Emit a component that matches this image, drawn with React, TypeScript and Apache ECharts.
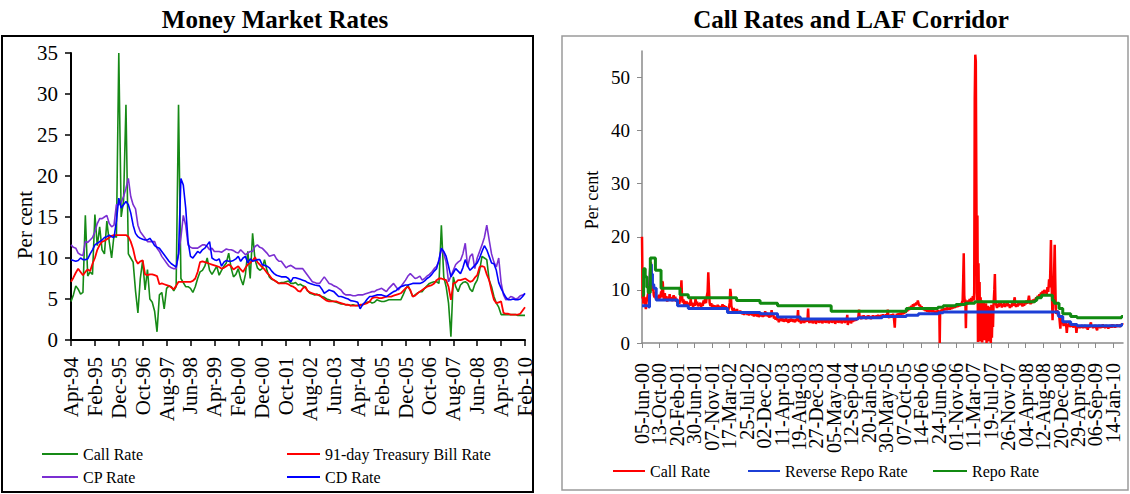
import React, { useEffect, useRef } from "react";
import * as echarts from "echarts";

// ---------- Left panel: Money Market Rates (monthly, Apr-94 .. Feb-10) ----------
const MONTH_NAMES = ["Jan", "Feb", "Mar", "Apr", "May", "Jun", "Jul", "Aug", "Sep", "Oct", "Nov", "Dec"];
const START_MONTH = 3; // April
const START_YEAR = 94;
const N_MONTHS = 191;
const monthCats: string[] = [];
for (let k = 0; k < N_MONTHS; k++) {
  const m = (START_MONTH + k) % 12;
  const y = (START_YEAR + Math.floor((START_MONTH + k) / 12)) % 100;
  monthCats.push(`${MONTH_NAMES[m]}-${String(y).padStart(2, "0")}`);
}

const callRate = [
  4.7, 5.5, 6.6, 6.2, 5.6, 5.8, 15.2, 7.8, 8.3, 8.0,
  15.3, 11.5, 13.8, 11.0, 10.5, 14.5, 12.0, 10.0, 12.8, 12.5,
  35.0, 15.0, 17.0, 28.7, 10.5, 10.0, 9.5, 6.0, 3.3, 7.5,
  9.7, 6.1, 8.6, 5.0, 4.6, 3.5, 1.0, 5.5, 5.8, 3.8,
  6.3, 6.6, 6.5, 6.0, 6.5, 28.7, 7.5, 7.0, 6.5, 6.5,
  6.3, 5.8, 6.5, 7.5, 8.3, 8.5, 9.0, 10.0, 8.5, 8.0,
  8.5, 9.0, 7.9, 8.5, 9.0, 9.4, 10.6, 8.8, 7.7, 8.0,
  8.7, 7.5, 6.7, 8.0, 10.8, 7.5, 13.0, 9.8, 8.8, 8.5,
  8.7, 9.8, 8.5, 7.7, 7.4, 7.3, 7.1, 6.9, 7.0, 7.0,
  7.1, 7.2, 6.9, 6.9, 7.0, 6.7, 6.8, 6.6, 6.5, 6.0,
  5.7, 5.6, 5.5, 5.6, 5.4, 5.3, 5.2, 5.0, 4.9, 4.8,
  4.7, 4.6, 4.5, 4.4, 4.4, 4.3, 4.3, 4.2, 4.3, 4.2,
  4.2, 4.2, 4.3, 4.5, 4.6, 4.7, 4.5, 4.6, 4.9, 4.8,
  4.7, 4.7, 4.8, 4.9, 4.9, 4.9, 4.9, 4.9, 4.9, 5.5,
  6.2, 6.7, 6.0, 5.3, 5.5, 5.7, 5.9, 5.9, 6.3, 6.6,
  6.9, 7.0, 7.1, 7.1, 6.9, 14.0, 7.7, 6.5, 4.5, 0.4,
  7.7, 6.5, 5.9, 6.7, 7.0, 7.1, 6.9, 6.2, 5.9, 6.8,
  7.3, 8.5, 10.2, 10.0, 9.8, 7.3, 6.5, 5.3, 4.5, 4.0,
  3.1, 3.1, 3.1, 3.1, 3.1, 3.1, 3.1, 3.0, 3.0, 3.0,
  3.0,
];

const tbillRate = [
  7.1, 7.6, 8.2, 8.7, 8.3, 7.9, 8.3, 8.6, 8.4, 9.3,
  10.0, 11.0, 11.6, 12.0, 12.1, 12.3, 12.5, 12.7, 12.8, 12.8,
  12.8, 12.8, 12.8, 12.8, 12.6, 12.0, 11.1, 9.8, 9.3, 9.6,
  9.7, 8.0, 7.9, 8.0, 8.0, 7.9, 7.8, 6.8, 6.9, 6.8,
  6.7, 6.6, 6.4, 6.2, 6.6, 7.1, 7.1, 7.1, 7.1, 7.1,
  7.1, 7.2, 7.5, 8.3, 9.5, 9.6, 9.5, 9.4, 9.3, 9.2,
  9.1, 9.0, 8.9, 8.7, 8.8, 9.0, 9.2, 9.0, 8.6, 8.8,
  9.0, 8.6, 8.3, 8.8, 9.2, 9.4, 9.7, 10.1, 9.5, 9.2,
  8.9, 8.6, 8.2, 7.9, 7.5, 7.3, 7.1, 6.9, 6.9, 6.9,
  6.9, 6.8, 6.6, 6.5, 6.3, 6.0, 5.9, 6.3, 6.5, 6.0,
  5.8, 5.7, 5.6, 5.5, 5.5, 5.2, 5.0, 4.8, 4.7, 4.7,
  4.7, 4.7, 4.6, 4.5, 4.4, 4.3, 4.3, 4.2, 4.2, 4.2,
  4.2, 4.3, 4.3, 4.4, 4.5, 4.7, 5.1, 5.2, 5.2, 5.1,
  5.1, 5.2, 5.3, 5.3, 5.3, 5.4, 5.5, 5.6, 5.7, 6.0,
  6.3, 6.5, 6.1, 5.3, 5.4, 5.7, 5.9, 6.1, 6.3, 6.5,
  6.6, 6.7, 6.9, 7.3, 7.5, 7.5, 7.4, 7.3, 6.5, 4.9,
  6.9, 7.0, 7.3, 7.3, 7.4, 7.5, 7.3, 7.1, 7.2, 7.6,
  7.9, 8.9, 9.0, 8.9, 8.0, 7.3, 6.0, 4.9, 4.5, 4.6,
  4.7, 3.3, 3.2, 3.2, 3.1, 3.1, 3.1, 3.1, 3.2, 3.6,
  4.0,
];

const cpRate = [
  11.6, 11.3, 11.2, 10.6, 10.4, 10.3, 12.0, 11.9, 12.2, 12.5,
  13.2, 14.2, 14.8, 14.8, 15.0, 15.2, 14.2, 13.8, 14.0, 16.5,
  16.5, 16.8, 17.5, 18.5, 19.7, 17.5, 16.5, 16.0, 14.0, 13.2,
  12.8, 12.4, 12.0, 12.0, 12.0, 12.0, 11.2, 10.8, 10.2, 9.8,
  9.4, 9.0, 8.8, 8.7, 8.7, 10.5, 12.5, 15.2, 14.0, 11.6,
  11.3, 11.2, 11.2, 11.2, 11.4, 11.6, 11.6, 11.4, 11.0, 11.2,
  10.8, 10.8, 10.8, 10.7, 10.9, 11.1, 11.0, 11.0, 10.9, 10.7,
  10.6, 11.0, 10.7, 10.4, 10.6, 10.8, 10.8, 11.4, 11.6, 11.3,
  11.2, 10.9, 10.6, 10.2, 10.3, 10.4, 9.9, 9.6, 9.6, 9.2,
  8.8, 9.0, 9.1, 8.9, 8.7, 8.7, 8.7, 8.7, 8.3, 7.9,
  7.5, 7.1, 7.0, 6.9, 6.9, 7.3, 7.7, 7.3, 6.9, 6.8,
  6.6, 6.5, 6.3, 6.1, 5.7, 5.5, 5.5, 5.5, 5.4, 5.4,
  5.5, 5.5, 5.5, 5.6, 5.7, 5.8, 5.9, 5.9, 6.1, 6.2,
  6.3, 6.1, 5.9, 6.3, 6.6, 6.9, 6.5, 6.1, 6.5, 6.9,
  7.3, 7.8, 8.1, 7.8, 7.5, 7.6, 7.8, 7.3, 7.5, 7.8,
  8.0, 8.3, 8.7, 9.0, 9.6, 11.2, 10.5, 9.5, 7.1, 7.8,
  8.5, 9.2, 9.5, 9.7, 10.5, 11.8, 8.9, 10.2, 10.5, 8.7,
  10.0, 10.8, 11.6, 12.5, 14.0, 12.2, 10.5, 9.5, 8.9, 10.0,
  7.0, 5.5, 4.9, 5.0, 5.3, 5.2, 5.0, 5.1, 5.4, 5.5,
  5.6,
];

const cdRate = [
  9.8, 9.7, 9.6, 9.7, 10.0, 9.8, 9.8, 9.9, 10.5, 11.0,
  11.6, 11.8, 12.0, 12.2, 12.5, 12.6, 12.8, 12.6, 12.5, 14.5,
  17.3, 16.1, 16.5, 16.9, 16.5, 15.5, 14.0, 13.0, 12.6, 12.4,
  12.3, 12.2, 12.2, 12.4, 12.0, 11.5, 11.3, 11.2, 10.8, 10.4,
  10.0, 9.6, 9.3, 9.1, 8.9, 10.5, 19.7, 18.9, 16.1, 12.0,
  10.2, 10.0, 10.4, 10.8, 10.6, 11.0, 11.2, 11.6, 12.0, 10.0,
  9.8, 9.7, 9.9, 9.0, 9.5, 9.7, 9.6, 9.6, 9.7, 9.9,
  10.2, 9.6, 10.0, 10.2, 9.4, 9.9, 9.6, 9.7, 9.8, 9.8,
  9.2, 9.1, 9.0, 8.8, 8.4, 8.1, 7.9, 7.8, 7.7, 7.7,
  7.7, 7.5, 7.1, 7.6, 7.6, 7.5, 7.4, 7.3, 7.2, 7.0,
  6.9, 6.8, 6.7, 6.65, 6.6, 6.2, 5.7, 5.9, 6.1, 6.0,
  5.9, 5.6, 5.3, 5.3, 5.2, 5.1, 5.0, 4.8, 4.75, 4.7,
  4.6, 3.8, 4.3, 4.6, 5.0, 5.3, 5.3, 5.4, 5.5, 5.5,
  5.5, 5.4, 5.3, 5.5, 5.7, 5.9, 6.0, 6.3, 6.5, 6.6,
  6.7, 6.7, 6.8, 6.9, 6.9, 6.9, 6.9, 7.0, 7.2, 7.5,
  7.7, 8.0, 8.4, 8.7, 9.8, 11.2, 10.8, 10.2, 9.0, 7.7,
  8.2, 8.7, 8.4, 8.1, 8.8, 9.8, 9.0, 8.5, 8.8, 9.1,
  9.4, 10.0, 10.8, 11.5, 11.0, 10.2, 9.4, 9.3, 8.5, 7.0,
  6.3, 5.7, 5.2, 4.9, 4.9, 5.0, 4.9, 4.9, 5.0, 5.3,
  5.7,
];

// ---------- Right panel: Call Rates and LAF Corridor (days since 05-Jun-00) ----------
const lafTickLabels = [
  "05-Jun-00", "13-Oct-00", "20-Feb-01", "30-Jun-01", "07-Nov-01", "17-Mar-02", "25-Jul-02",
  "02-Dec-02", "11-Apr-03", "19-Aug-03", "27-Dec-03", "05-May-04", "12-Sep-04", "20-Jan-05",
  "30-May-05", "07-Oct-05", "14-Feb-06", "24-Jun-06", "01-Nov-06", "11-Mar-07", "19-Jul-07",
  "26-Nov-07", "04-Apr-08", "12-Aug-08", "20-Dec-08", "29-Apr-09", "06-Sep-09", "14-Jan-10",
];
const LAF_TICK_STEP_DAYS = 130;
const LAF_LAST_DAY = 3585;

const lafCallRate: [number, number][] = [
  [0, 20.0], [2, 15.5], [4, 8.4], [7, 9.8], [10, 7.4], [13, 9.0], [17, 7.8], [21, 8.6], [25, 7.0], [29, 6.4],
  [33, 7.6], [38, 8.3], [43, 9.0], [48, 9.6], [53, 10.6], [58, 12.2], [62, 14.6], [66, 15.2], [70, 13.0], [74, 11.2],
  [78, 9.8], [83, 10.4], [88, 9.0], [93, 8.6], [98, 9.6], [103, 8.3], [108, 8.9], [113, 8.0], [118, 8.7], [123, 8.1],
  [128, 9.1], [133, 8.4], [138, 8.9], [143, 9.7], [147, 8.6], [151, 11.6], [155, 11.4], [159, 9.0],
  [164, 8.2], [170, 9.4], [176, 8.0], [182, 8.8], [188, 7.8], [194, 8.5], [200, 8.0], [206, 9.2], [212, 8.1], [218, 8.6],
  [224, 7.9], [230, 8.4], [236, 9.0], [242, 8.0], [248, 8.7], [254, 7.8], [260, 8.3], [266, 7.6], [272, 8.0], [278, 7.4],
  [284, 8.2], [289, 9.4], [294, 11.8], [298, 9.0], [303, 7.6], [309, 8.2], [315, 7.2], [321, 7.9], [327, 7.0], [333, 7.8],
  [339, 7.3], [345, 6.9], [351, 7.6], [357, 7.0], [363, 8.3], [369, 7.1], [375, 7.6], [381, 6.8], [387, 7.4], [393, 7.0],
  [399, 8.4], [405, 7.2], [411, 7.8], [417, 6.9], [423, 7.5], [429, 7.0], [435, 7.6], [441, 6.8], [447, 7.3], [453, 7.0],
  [459, 8.0], [465, 7.4], [471, 8.6], [477, 7.5], [483, 8.8], [489, 9.6], [494, 13.3], [499, 10.2], [504, 7.6],
  [510, 7.0], [516, 7.5], [522, 6.8], [528, 7.2], [534, 6.6], [540, 7.1], [546, 6.6], [552, 7.0], [558, 6.5], [564, 7.2],
  [570, 6.7], [576, 7.0], [582, 6.4], [588, 6.9], [594, 6.5], [600, 7.3], [606, 6.6], [612, 7.1], [618, 6.5], [624, 6.9],
  [630, 6.3], [636, 6.6], [642, 6.0], [648, 6.8], [654, 7.6], [658, 10.2], [662, 9.4], [666, 7.0], [672, 6.4], [678, 6.0],
  [684, 6.6], [690, 5.9], [696, 6.3], [702, 5.8], [708, 6.4], [714, 5.7], [720, 6.0], [726, 5.6], [732, 6.1], [738, 5.5],
  [744, 5.9], [750, 5.4], [756, 5.8], [762, 5.3], [768, 5.9], [774, 5.5], [780, 5.8], [786, 5.3], [792, 5.7], [798, 5.2],
  [804, 5.6], [810, 5.4], [816, 5.8], [822, 5.2], [828, 5.6], [834, 5.0], [840, 5.5], [846, 5.1], [852, 5.6], [858, 5.0],
  [864, 5.4], [870, 4.9], [876, 5.3], [882, 5.8], [888, 5.0], [894, 5.5], [900, 4.9], [906, 5.6], [912, 5.0], [918, 6.0],
  [924, 5.2], [930, 5.7], [936, 5.0], [942, 5.4], [948, 4.8], [954, 5.3], [960, 4.9], [966, 6.2], [972, 5.0], [978, 5.4],
  [984, 4.6], [990, 5.0], [996, 4.4], [1002, 4.9], [1008, 4.3], [1014, 4.5], [1020, 3.9], [1026, 4.6], [1032, 4.2], [1038, 4.8],
  [1044, 4.1], [1050, 4.6], [1056, 4.0], [1062, 4.5], [1068, 4.1], [1074, 4.7], [1080, 4.0], [1086, 4.4], [1092, 3.8], [1098, 4.5],
  [1104, 4.0], [1110, 4.6], [1116, 4.1], [1122, 4.5], [1128, 4.0], [1134, 4.4], [1140, 3.9], [1146, 4.5], [1152, 4.1], [1158, 4.6],
  [1163, 6.2], [1167, 4.4], [1173, 4.0], [1179, 4.3], [1185, 3.7], [1191, 4.2], [1197, 3.9], [1203, 4.4], [1209, 3.8], [1215, 4.3],
  [1221, 4.0], [1227, 4.5], [1233, 4.0], [1238, 6.5], [1242, 4.3], [1248, 3.8], [1254, 4.3], [1260, 3.9], [1266, 4.4], [1272, 3.7],
  [1278, 4.2], [1284, 3.9], [1290, 4.4], [1296, 3.6], [1302, 4.2], [1308, 4.0], [1314, 4.5], [1320, 3.8], [1326, 4.3], [1332, 3.9],
  [1338, 4.4], [1344, 3.7], [1350, 4.2], [1356, 4.0], [1362, 4.5], [1368, 3.8], [1374, 4.3], [1380, 3.9], [1386, 4.4], [1392, 3.7],
  [1398, 4.2], [1404, 4.0], [1410, 4.5], [1416, 3.8], [1422, 4.3], [1428, 3.9], [1434, 4.4], [1440, 3.6], [1446, 4.2], [1452, 4.0],
  [1458, 4.5], [1464, 3.8], [1470, 4.3], [1476, 3.9], [1482, 4.4], [1488, 3.7], [1494, 4.2], [1500, 4.0], [1506, 4.4], [1512, 3.8],
  [1518, 4.3], [1524, 4.1], [1530, 5.3], [1534, 3.4], [1540, 4.2], [1546, 3.9], [1552, 4.4], [1558, 3.7], [1564, 4.3], [1570, 4.0],
  [1576, 4.5], [1582, 4.1], [1588, 4.6], [1594, 4.2], [1600, 4.7], [1606, 4.4], [1612, 4.8], [1618, 6.3], [1622, 4.6], [1628, 5.0],
  [1634, 4.5], [1640, 5.1], [1646, 4.6], [1652, 5.2], [1658, 4.7], [1664, 5.0], [1670, 4.5], [1676, 5.1], [1682, 4.7], [1688, 5.2],
  [1694, 4.6], [1700, 5.0], [1706, 4.5], [1712, 5.1], [1718, 4.8], [1724, 5.2], [1730, 4.6], [1736, 5.0], [1742, 4.7], [1748, 5.2],
  [1754, 4.8], [1760, 5.3], [1766, 4.9], [1772, 5.2], [1778, 4.8], [1784, 5.3], [1790, 4.9], [1796, 5.4], [1802, 5.0], [1808, 5.3],
  [1814, 4.8], [1820, 5.4], [1826, 5.0], [1832, 6.3], [1836, 5.1], [1842, 4.7], [1848, 5.3], [1854, 4.9], [1860, 5.4], [1866, 5.0],
  [1872, 5.5], [1878, 4.6], [1884, 2.9], [1888, 5.2], [1894, 5.0], [1900, 5.5], [1906, 5.1], [1912, 5.6], [1918, 5.2], [1924, 5.7],
  [1930, 5.3], [1936, 5.8], [1942, 5.4], [1948, 5.9], [1954, 5.5], [1960, 6.0], [1966, 5.7], [1972, 6.3], [1978, 6.0], [1984, 6.6],
  [1990, 6.2], [1996, 6.8], [2002, 6.5], [2008, 7.0], [2014, 6.7], [2020, 7.3], [2026, 6.9], [2032, 7.4], [2038, 7.1], [2044, 7.6],
  [2050, 7.3], [2056, 8.0], [2060, 7.5], [2066, 7.0], [2072, 7.2], [2078, 6.6], [2084, 6.9], [2090, 6.4], [2096, 6.7], [2102, 6.2],
  [2108, 6.5], [2114, 6.0], [2120, 6.4], [2126, 5.9], [2132, 6.3], [2138, 5.8], [2144, 6.2], [2150, 5.9], [2156, 6.3], [2162, 5.8],
  [2168, 6.2], [2174, 5.8], [2180, 6.1], [2186, 5.7], [2192, 6.0], [2198, 5.8], [2204, 6.2], [2210, 5.8], [2216, 5.9], [2219, 0.0],
  [2222, 5.9], [2228, 6.2], [2234, 6.0], [2240, 6.4], [2246, 6.1], [2252, 6.5], [2258, 6.2], [2264, 6.6], [2270, 6.2], [2276, 6.7],
  [2282, 6.3], [2288, 6.6], [2294, 6.3], [2300, 6.8], [2306, 6.4], [2312, 6.9], [2318, 6.5], [2324, 7.0], [2330, 6.6], [2336, 7.1],
  [2342, 6.7], [2348, 7.2], [2354, 6.8], [2360, 7.3], [2366, 6.9], [2372, 7.4], [2378, 7.0], [2384, 7.6], [2390, 8.0], [2394, 12.0],
  [2398, 16.9], [2402, 9.0], [2406, 7.5], [2410, 8.2], [2414, 2.8], [2418, 7.8], [2424, 7.2], [2430, 8.0], [2436, 7.4], [2442, 8.3],
  [2448, 7.6], [2454, 8.5], [2460, 7.8], [2466, 8.8], [2472, 8.0], [2476, 9.5], [2480, 46.0], [2484, 54.3], [2488, 53.0], [2492, 30.0],
  [2496, 8.0], [2500, 24.0], [2504, 0.2], [2508, 15.0], [2512, 5.0], [2516, 11.5], [2520, 0.3], [2524, 8.6], [2528, 1.5], [2532, 8.0],
  [2536, 0.1], [2540, 6.0], [2544, 2.0], [2548, 7.8], [2552, 0.5], [2556, 5.5], [2560, 1.0], [2564, 7.5], [2568, 0.0], [2572, 6.0],
  [2576, 1.5], [2580, 7.0], [2584, 0.3], [2588, 5.0], [2592, 2.2], [2596, 6.8], [2600, 0.0], [2604, 7.2], [2608, 1.0], [2612, 6.0],
  [2616, 3.0], [2620, 7.0], [2626, 10.0], [2630, 13.0], [2634, 8.0], [2640, 7.2], [2646, 6.6], [2652, 7.4], [2658, 6.8], [2664, 7.6],
  [2670, 7.0], [2676, 7.5], [2682, 6.7], [2688, 7.3], [2694, 6.9], [2700, 7.6], [2706, 6.8], [2712, 7.4], [2718, 7.0], [2724, 7.7],
  [2730, 6.9], [2736, 7.3], [2742, 6.6], [2748, 7.2], [2754, 6.8], [2760, 7.5], [2766, 7.0], [2772, 7.8], [2778, 8.6], [2782, 7.2],
  [2788, 6.8], [2794, 7.3], [2800, 6.9], [2806, 7.6], [2812, 7.1], [2818, 7.8], [2824, 7.2], [2830, 7.5], [2836, 6.9], [2842, 7.4],
  [2848, 7.0], [2854, 7.7], [2860, 7.3], [2866, 8.0], [2872, 7.4], [2878, 7.9], [2884, 8.9], [2890, 7.8], [2896, 7.3], [2902, 8.0],
  [2908, 7.5], [2914, 8.2], [2920, 7.6], [2926, 8.3], [2932, 8.0], [2938, 8.6], [2944, 8.2], [2950, 8.9], [2956, 8.4], [2962, 9.2],
  [2968, 8.7], [2974, 9.5], [2980, 9.0], [2986, 9.8], [2992, 9.2], [2998, 10.0], [3004, 9.4], [3010, 9.9], [3016, 9.2], [3022, 10.5],
  [3028, 9.6], [3034, 12.0], [3040, 10.5], [3044, 14.5], [3048, 19.4], [3052, 12.0], [3056, 8.5], [3060, 4.3], [3064, 7.8], [3068, 10.0],
  [3072, 14.0], [3076, 18.5], [3080, 12.0], [3084, 6.5], [3088, 5.5], [3094, 6.2], [3100, 5.2], [3106, 5.8], [3112, 4.4], [3118, 2.7],
  [3124, 4.8], [3130, 3.7], [3136, 4.4], [3142, 3.2], [3148, 3.9], [3154, 3.3], [3160, 3.8], [3166, 1.9], [3172, 3.6], [3178, 3.2],
  [3184, 3.8], [3190, 3.0], [3196, 3.6], [3202, 3.1], [3208, 3.7], [3214, 2.9], [3220, 3.5], [3226, 3.0], [3232, 3.6], [3238, 1.9],
  [3244, 3.3], [3250, 2.9], [3256, 3.3], [3262, 2.8], [3268, 3.3], [3274, 2.9], [3280, 3.4], [3286, 2.8], [3292, 3.2], [3298, 2.9],
  [3304, 3.4], [3310, 2.8], [3316, 3.3], [3322, 2.5], [3328, 3.2], [3334, 2.9], [3340, 3.4], [3346, 3.9], [3350, 3.0], [3356, 3.3],
  [3362, 2.8], [3368, 3.3], [3374, 2.9], [3380, 3.4], [3386, 2.8], [3392, 2.4], [3398, 3.3], [3404, 2.9], [3410, 3.4], [3416, 2.8],
  [3422, 3.2], [3428, 2.9], [3434, 3.5], [3440, 2.9], [3446, 3.3], [3452, 2.8], [3458, 3.4], [3464, 2.9], [3470, 3.3], [3476, 2.7],
  [3482, 3.2], [3488, 2.9], [3494, 3.4], [3500, 2.9], [3506, 3.5], [3512, 3.0], [3518, 3.4], [3524, 2.9], [3530, 3.3], [3536, 3.0],
  [3542, 3.5], [3548, 3.1], [3554, 3.4], [3560, 3.0], [3566, 3.5], [3572, 3.3], [3578, 3.6], [3585, 3.4],
];

// Step changes [day, rate]
const reverseRepoRate: [number, number][] = [
  [0, 7.0], [50, 6.8], [56, 8.5], [60, 12.0], [64, 14.8], [70, 13.0], [78, 11.0], [88, 10.3], [106, 8.1],
  [265, 7.0], [345, 6.5], [637, 5.75], [880, 5.5], [1010, 4.9], [1180, 4.5], [1610, 4.75], [1790, 5.0],
  [1970, 5.25], [2060, 5.5], [2210, 5.7], [2245, 5.85], [3105, 5.0], [3136, 4.0], [3195, 3.5], [3242, 3.25],
  [3574, 3.5], [3585, 3.5],
];

const repoRate: [number, number][] = [
  [0, 9.0], [12, 14.0], [24, 12.5], [36, 10.5], [46, 9.5], [62, 16.0], [100, 13.7], [142, 10.3], [283, 9.1],
  [345, 8.5], [705, 8.0], [880, 7.5], [1010, 7.0], [1410, 6.0], [1970, 6.5], [2205, 6.75], [2245, 7.0],
  [2340, 7.25], [2410, 7.5], [2480, 7.75], [2929, 8.0], [2942, 8.5], [2977, 9.0], [3059, 8.0], [3073, 7.5],
  [3108, 6.5], [3136, 5.5], [3195, 5.0], [3242, 4.75], [3574, 5.0], [3585, 5.0],
];

const SERIF = "Liberation Serif";

export default function App() {
  const ref = useRef<HTMLDivElement>(null);

  useEffect(() => {
    if (!ref.current) return;
    const chart = echarts.init(ref.current, undefined, { renderer: "svg" });
    const lafTickDays = lafTickLabels.map((_, k) => k * LAF_TICK_STEP_DAYS);
    // Labels split over two co-located axes so that neighbouring rotated labels never collide
    const lafEvenDays = lafTickDays.filter((_, k) => k % 2 === 0);
    const lafOddDays = lafTickDays.filter((_, k) => k % 2 === 1);
    const lafLabelFormatter = (v: number) => lafTickLabels[Math.round(v / LAF_TICK_STEP_DAYS)] ?? "";
    const lafLabelStyle = {
      showMinLabel: true,
      showMaxLabel: true,
      formatter: lafLabelFormatter,
      rotate: 90,
      margin: 20,
      fontFamily: SERIF,
      fontSize: 20,
      color: "#000",
    };

    const legendBase = {
      icon: "rect",
      itemWidth: 36,
      itemHeight: 2,
      itemGap: 5,
      padding: 0,
      selectedMode: false as const,
      textStyle: { fontFamily: SERIF, fontSize: 16, color: "#000" },
    };

    const option: any = {
      animation: false,
      backgroundColor: "#ffffff",
      textStyle: { fontFamily: SERIF },
      title: [
        {
          text: "Money Market Rates",
          left: 270,
          top: 2,
          textAlign: "center",
          textStyle: { fontFamily: SERIF, fontWeight: "bold", fontSize: 25, color: "#000" },
        },
        {
          text: "Call Rates and LAF Corridor",
          left: 846,
          top: 2,
          textAlign: "center",
          textStyle: { fontFamily: SERIF, fontWeight: "bold", fontSize: 25, color: "#000" },
        },
      ],
      grid: [
        { left: 71, top: 53, width: 454, height: 287 },
        { left: 642, top: 51, width: 481, height: 292 },
      ],
      xAxis: [
        {
          gridIndex: 0,
          type: "category",
          data: monthCats,
          boundaryGap: false,
          axisLine: { show: true, lineStyle: { color: "#000", width: 2 } },
          axisTick: { show: true, interval: 9, length: 6, lineStyle: { color: "#000", width: 1.5 } },
          axisLabel: {
            interval: 9,
            rotate: 90,
            margin: 17,
            fontFamily: SERIF,
            fontSize: 21,
            color: "#000",
          },
          splitLine: { show: false },
        },
        {
          gridIndex: 1,
          type: "value",
          position: "bottom",
          min: 0,
          max: LAF_LAST_DAY,
          axisLine: { show: true, lineStyle: { color: "#8a8a8a", width: 1.5 } },
          axisTick: { show: true, customValues: lafTickDays, length: 5, lineStyle: { color: "#8a8a8a", width: 1 } },
          axisLabel: { ...lafLabelStyle, customValues: lafEvenDays },
          splitLine: { show: false },
        },
        {
          gridIndex: 1,
          type: "value",
          position: "bottom",
          offset: 0,
          min: 0,
          max: LAF_LAST_DAY,
          axisLine: { show: false },
          axisTick: { show: false },
          axisLabel: { ...lafLabelStyle, customValues: lafOddDays },
          splitLine: { show: false },
        },
      ],
      yAxis: [
        {
          gridIndex: 0,
          type: "value",
          min: 0,
          max: 35,
          interval: 5,
          axisLine: { show: true, lineStyle: { color: "#000", width: 2 } },
          axisTick: { show: true, length: 6, lineStyle: { color: "#000", width: 1.5 } },
          axisLabel: { margin: 13, fontFamily: SERIF, fontSize: 21, color: "#000" },
          splitLine: { show: false },
        },
        {
          gridIndex: 1,
          type: "value",
          min: 0,
          max: 55,
          interval: 10,
          axisLine: { show: true, lineStyle: { color: "#8a8a8a", width: 1.5 } },
          axisTick: { show: true, customValues: [0, 10, 20, 30, 40, 50], length: 5, lineStyle: { color: "#8a8a8a" } },
          axisLabel: {
            customValues: [0, 10, 20, 30, 40, 50],
            margin: 12,
            fontFamily: SERIF,
            fontSize: 19,
            color: "#000",
          },
          splitLine: { show: false },
        },
      ],
      legend: [
        { ...legendBase, left: 42, top: 446, data: ["Call Rate"] },
        { ...legendBase, itemWidth: 33, left: 287, top: 446, data: ["91-day Treasury Bill Rate"] },
        { ...legendBase, left: 42, top: 469, data: ["CP Rate"] },
        { ...legendBase, itemWidth: 33, left: 287, top: 469, data: ["CD Rate"] },
        {
          ...legendBase,
          itemWidth: 32,
          left: 613,
          top: 463,
          data: ["LAF Call Rate"],
          formatter: () => "Call Rate",
        },
        { ...legendBase, itemWidth: 32, left: 748, top: 463, data: ["Reverse Repo Rate"] },
        { ...legendBase, itemWidth: 34, left: 933, top: 463, data: ["Repo Rate"] },
      ],
      graphic: [
        {
          type: "rect",
          silent: true,
          z: -10,
          shape: { x: 2, y: 36, width: 531, height: 456 },
          style: { fill: "none", stroke: "#000", lineWidth: 2 },
        },
        {
          type: "rect",
          silent: true,
          z: -10,
          shape: { x: 562, y: 36, width: 566, height: 454 },
          style: { fill: "none", stroke: "#9a9a9a", lineWidth: 1.5 },
        },
        {
          type: "text",
          x: 25,
          y: 225,
          rotation: Math.PI / 2,
          style: {
            text: "Per cent",
            fontFamily: SERIF,
            fontSize: 21,
            fill: "#000",
            align: "center",
            verticalAlign: "middle",
          },
        },
        {
          type: "text",
          x: 592,
          y: 200,
          rotation: Math.PI / 2,
          style: {
            text: "Per cent",
            fontFamily: SERIF,
            fontSize: 18,
            fill: "#000",
            align: "center",
            verticalAlign: "middle",
          },
        },
      ],
      series: [
        {
          name: "Call Rate",
          type: "line",
          xAxisIndex: 0,
          yAxisIndex: 0,
          data: callRate,
          symbol: "none",
          lineStyle: { color: "#168a16", width: 1.6 },
          itemStyle: { color: "#168a16" },
        },
        {
          name: "91-day Treasury Bill Rate",
          type: "line",
          xAxisIndex: 0,
          yAxisIndex: 0,
          data: tbillRate,
          symbol: "none",
          lineStyle: { color: "#ff0000", width: 1.8 },
          itemStyle: { color: "#ff0000" },
        },
        {
          name: "CP Rate",
          type: "line",
          xAxisIndex: 0,
          yAxisIndex: 0,
          data: cpRate,
          symbol: "none",
          lineStyle: { color: "#7b2fd2", width: 1.6 },
          itemStyle: { color: "#7b2fd2" },
        },
        {
          name: "CD Rate",
          type: "line",
          xAxisIndex: 0,
          yAxisIndex: 0,
          data: cdRate,
          symbol: "none",
          lineStyle: { color: "#0000ff", width: 1.6 },
          itemStyle: { color: "#0000ff" },
        },
        {
          name: "LAF Call Rate",
          type: "line",
          xAxisIndex: 1,
          yAxisIndex: 1,
          data: lafCallRate,
          symbol: "none",
          lineStyle: { color: "#ff0000", width: 2.5 },
          itemStyle: { color: "#ff0000" },
        },
        {
          name: "Reverse Repo Rate",
          type: "line",
          xAxisIndex: 1,
          yAxisIndex: 1,
          data: reverseRepoRate,
          step: "end",
          symbol: "none",
          lineStyle: { color: "#1c3fd6", width: 3 },
          itemStyle: { color: "#1c3fd6" },
        },
        {
          name: "Repo Rate",
          type: "line",
          xAxisIndex: 1,
          yAxisIndex: 1,
          data: repoRate,
          step: "end",
          symbol: "none",
          lineStyle: { color: "#118a11", width: 3 },
          itemStyle: { color: "#118a11" },
        },
      ],
    };

    chart.setOption(option);
    return () => chart.dispose();
  }, []);

  return (
    <div
      ref={ref}
      style={{ position: "fixed", left: 0, top: 0, width: 1130, height: 494, background: "#fff" }}
    />
  );
}
